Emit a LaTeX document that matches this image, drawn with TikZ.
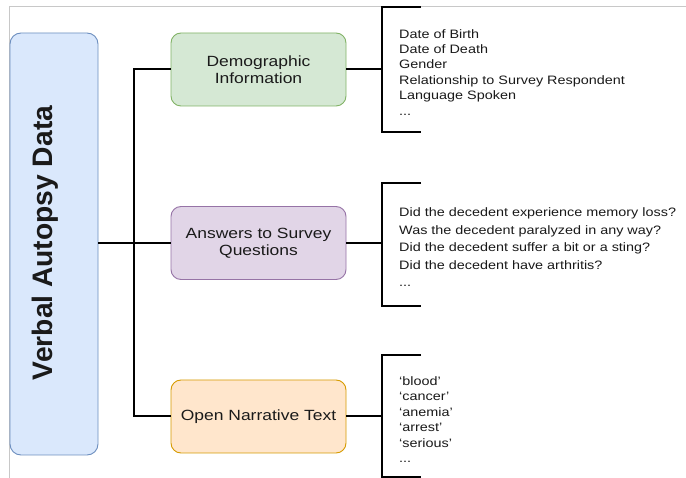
\documentclass[tikz,border=0pt]{standalone}
\usepackage{fontspec}
\setmainfont{Liberation Sans}
\newfontfamily\widesans[FakeStretch=1.18,Ligatures=TeX]{Liberation Sans}
\definecolor{vafill}{HTML}{DAE8FC}
\definecolor{vaedge}{HTML}{6C8EBF}
\definecolor{demofill}{HTML}{D5E8D4}
\definecolor{demoedge}{HTML}{82B366}
\definecolor{ansfill}{HTML}{E1D5E7}
\definecolor{ansedge}{HTML}{9673A6}
\definecolor{openfill}{HTML}{FFE6CC}
\definecolor{openedge}{HTML}{D79B00}
\definecolor{framegray}{HTML}{C8C8C8}
\definecolor{ink}{HTML}{1A1A1A}
\tikzset{
  catbox/.style={rounded corners=10pt, line width=0.9pt, minimum width=175pt,
    minimum height=73pt, align=center, text=ink, inner sep=0pt,
    font=\widesans\fontsize{14.8}{17}\selectfont},
  tree/.style={line width=2pt, black},
  bracket/.style={line width=2.4pt, black},
  itemlist/.style={anchor=north west, align=left, inner sep=0pt, text=ink},
}
\begin{document}
\begin{tikzpicture}[x=1pt,y=-1pt]
\useasboundingbox (0,0) rectangle (686,478);
\fill[white] (0,0) rectangle (686,478);
% outer frame lines
\draw[framegray, line width=0.8pt] (686,6) -- (9,6) -- (9,478);

% root box
\node[draw=vaedge, fill=vafill, rounded corners=11pt, line width=0.9pt,
      minimum width=88pt, minimum height=422pt, inner sep=0pt] (va) at (54,244) {};
\node[rotate=90, inner sep=0pt, text=ink, font=\fontsize{28.2}{30}\bfseries\selectfont]
      (vatitle) at (45.5,243) {Verbal Autopsy Data};

% category boxes
\node[catbox, draw=demoedge, fill=demofill] (demo) at (258.5,69.5) {Demographic\\Information};
\node[catbox, draw=ansedge, fill=ansfill] (ans) at (258.5,243) {Answers to Survey\\Questions};
\node[catbox, draw=openedge, fill=openfill] (open) at (258.5,416.5) {Open Narrative Text};

% tree connectors
\coordinate (j) at (134,243);
\draw[tree] (va.east |- j) -- (j);
\draw[tree] (demo.west) -| (j);
\draw[tree] (open.west) -| (j);
\draw[tree] (ans.west) -- (j);

% brackets
\coordinate (b1t) at (421,7);   \coordinate (b1b) at (421,132);
\coordinate (b2t) at (421,183); \coordinate (b2b) at (421,306);
\coordinate (b3t) at (421,355); \coordinate (b3b) at (421,477);
\draw[bracket] (b1t) -- (382,7) -- (382,132) -- (b1b);
\draw[bracket] (b2t) -- (382,183) -- (382,306) -- (b2b);
\draw[bracket] (b3t) -- (382,355) -- (382,477) -- (b3b);
\draw[tree] (demo.east) -- (382,69.5);
\draw[tree] (ans.east) -- (382,243);
\draw[tree] (open.east) -- (382,416.5);

% item lists
\node[itemlist, font=\widesans\fontsize{12.2}{15.4}\selectfont] (l1) at (399,29)
  {Date of Birth\\Date of Death\\Gender\\Relationship to Survey Respondent\\Language Spoken\\...};
\node[itemlist, font=\widesans\fontsize{12.2}{17.6}\selectfont] (l2) at (399,207.5)
  {Did the decedent experience memory loss?\\Was the decedent paralyzed in any way?\\Did the decedent suffer a bit or a sting?\\Did the decedent have arthritis?\\...};
\node[itemlist, font=\widesans\fontsize{12.2}{15.4}\selectfont] (l3) at (399,376.5)
  {‘blood’\\‘cancer’\\‘anemia’\\‘arrest’\\‘serious’\\...};
\end{tikzpicture}
\end{document}
